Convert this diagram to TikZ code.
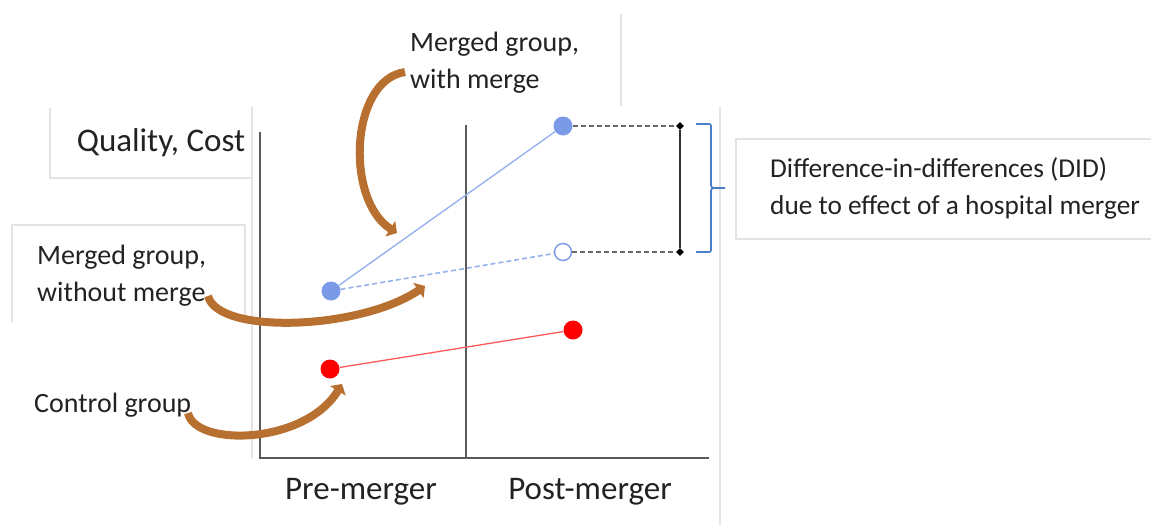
\documentclass[tikz,border=0pt]{standalone}
\usepackage{fontspec}
\setmainfont{Carlito}
\usetikzlibrary{arrows.meta,shapes.geometric}
\definecolor{brownarrow}{RGB}{184,112,48}
\definecolor{dotblue}{RGB}{122,154,232}
\definecolor{lineblue}{RGB}{150,178,238}
\definecolor{braceblue}{RGB}{74,126,198}
\definecolor{txt}{RGB}{34,34,34}
\tikzset{
  faint/.style={draw=black!11, line width=1.2pt},
  axisline/.style={draw=black!65, line width=1.6pt},
  dot/.style={circle, inner sep=0pt, minimum size=19pt},
  lbl/.style={font=\fontsize{28}{37}\selectfont, text=txt, inner sep=0pt, align=left},
  biglbl/.style={font=\fontsize{33}{38}\selectfont, text=txt, inner sep=0pt},
  bendarrow/.style={draw=brownarrow, line width=8pt, -{Triangle[width=18pt,length=8pt]}},
  guide/.style={draw=black!60, line width=1.5pt, dash pattern=on 5pt off 3pt},
  tick/.style={diamond, fill=black, inner sep=0pt, minimum size=8pt}
}
\begin{document}
\begin{tikzpicture}[x=1pt,y=-1pt]
\useasboundingbox (0,0) rectangle (1151,525);
% faint text-box borders
\draw[faint] (50,108) -- (50,178) -- (252,178);
\draw[faint] (252,107) -- (252,458);
\draw[faint] (12,322) -- (12,225) -- (245,225) -- (245,322);
\draw[faint] (621,14) -- (621,106);
\draw[faint] (720,107) -- (720,525);
\draw[faint] (1151,139) -- (736,139) -- (736,239) -- (1151,239);
% axes
\coordinate (ytop) at (260,132);
\coordinate (orig) at (260,458);
\coordinate (xend) at (709,458);
\coordinate (midtop) at (466,125);
\coordinate (midbot) at (466,458);
\draw[axisline] (ytop) -- (orig) -- (xend);
\draw[axisline] (midtop) -- (midbot);
% labels
\node[biglbl] (qc) at (161,143) {Quality, Cost};
\node[biglbl] (pre) at (361,492) {Pre-merger};
\node[biglbl] (post) at (590,492) {Post-merger};
\node[lbl, anchor=west] (lwith) at (410,63) {Merged group,\\with merge};
\node[lbl, anchor=west] (lwithout) at (37,276) {Merged group,\\without merge};
\node[lbl, anchor=west] (lctrl) at (34,405) {Control group};
\node[lbl, anchor=west, font=\fontsize{27.3}{37}\selectfont] (ldid) at (770,188) {Difference-in-differences (DID)\\due to effect of a hospital merger};
% data points
\node[dot, fill=dotblue] (preM) at (331,291) {};
\node[dot, fill=dotblue] (postM) at (563,126) {};
\node[dot, fill=white, draw=dotblue, line width=1.4pt, minimum size=17pt] (postCF) at (563,252) {};
\node[dot, fill=red] (preC) at (330,369) {};
\node[dot, fill=red] (postC) at (573,330) {};
\draw[lineblue, line width=1.4pt] (preM) -- (postM);
\draw[lineblue, line width=1.6pt, dash pattern=on 5pt off 3pt] (preM) -- (postCF);
\draw[red!65, line width=1.3pt] (preC) -- (postC);
% DID measure
\node[tick] (d1) at (680,126) {};
\node[tick] (d2) at (680,252) {};
\draw[guide] (postM) -- (d1);
\draw[guide] (postCF) -- (d2);
\draw[black!80, line width=1.4pt] (d1) -- (d2);
% brace
\draw[braceblue, line width=1.8pt, line join=round]
  (696,124) -- (707,124) .. controls (711,124) .. (711,128) -- (711,182)
  .. controls (711,188) .. (717,188) -- (725,188);
\draw[braceblue, line width=1.8pt, line join=round]
  (717,188) .. controls (711,188) .. (711,194) -- (711,248)
  .. controls (711,252) .. (707,252) -- (696,252);
% brown curved arrows
\coordinate (a1s) at (405,72);
\coordinate (a1e) at (397,233);
\coordinate (a2s) at (208,296);
\coordinate (a2e) at (425,286);
\coordinate (a3s) at (188,413);
\coordinate (a3e) at (342,384);
\draw[bendarrow] (a1s) .. controls (350,80) and (345,200) .. (a1e);
\draw[bendarrow] (a2s) .. controls (218,335) and (360,330) .. (a2e);
\draw[bendarrow] (a3s) .. controls (195,447) and (305,445) .. (a3e);
\end{tikzpicture}
\end{document}
